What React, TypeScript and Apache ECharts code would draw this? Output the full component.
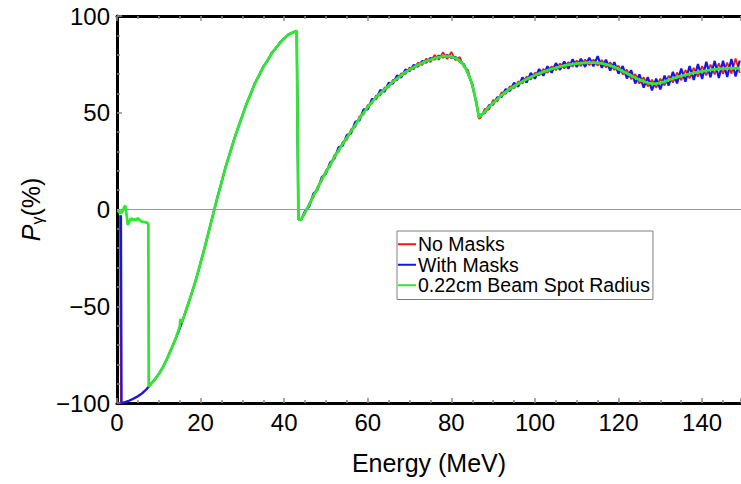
import React, { useEffect, useRef } from 'react';
import * as echarts from 'echarts';

// Energy grid (MeV) for the two noisy simulations
const noisyEnergy = [0.7, 0.95, 1.1, 1.5, 2, 3, 4, 5, 6, 7, 8, 9, 10, 11, 12, 13, 14, 15, 16, 17, 18, 19, 20, 21, 22, 23, 24, 25, 26, 27, 28, 29, 30, 31, 32, 33, 34, 35, 36, 37, 38, 39, 40, 41, 42, 43, 43.4, 44, 45, 46, 47, 48, 49, 50, 51, 52, 53, 54, 55, 56, 57, 58, 59, 60, 61, 62, 63, 64, 65, 66, 67, 68, 69, 70, 71, 72, 73, 74, 75, 76, 77, 78, 79, 80, 81, 82, 83, 84, 85, 86, 86.6, 87, 88, 89, 90, 91, 92, 93, 94, 95, 96, 97, 98, 99, 100, 101, 102, 103, 104, 105, 106, 107, 108, 109, 110, 111, 112, 113, 114, 115, 116, 117, 118, 119, 120, 121, 122, 123, 124, 125, 126, 127, 128, 129, 130, 131, 132, 133, 134, 135, 136, 137, 138, 139, 140, 141, 142, 143, 144, 145, 146, 147, 148, 149];

// "No Masks" polarisation (%)
const noMasks = [-3, -100, -99.9, -99.8, -99.5, -98.7, -97.7, -96.5, -95, -93, -90.5, -88, -85, -81.5, -77, -72, -67, -61.5, -55.5, -49, -42.5, -35.5, -27.5, -19.5, -11, -2.5, 6, 14, 22, 29, 36, 42.5, 48.5, 54.5, 60, 65, 69.5, 73.5, 77, 80.5, 83.5, 86, 88.5, 90.2, 91.5, 92.3, -5, -5.5,
  -2.1, 3.2, 6.2, 11.9, 14.8, 20.3, 22.1, 28, 29.7, 34.9, 36, 41.4, 42.7, 48, 49.1, 54, 54.7, 58.9, 59, 63, 63.1, 67, 66.8, 70.3, 70, 73.4, 72.5, 75.9, 74.7, 77.9, 76.2, 79.9, 77.4, 81.3, 77.7, 81.4, 77.1, 78.8, 73.7, 72, 63.5, 56,
  47,
  47.3, 52, 51.6, 56.6, 55.8, 60.5, 59.8, 63.6, 62.7, 66.2, 65.1, 68.7, 67.2, 70.7, 69.3, 72.6, 70.6, 74, 72, 75.4, 72.9, 76.2, 73.8, 77, 74.1, 77.5, 74.5, 77.5, 74.3, 77.3, 73.4, 76.1, 72.1, 74.4, 69.8, 72.3, 67.4, 70, 65.1, 68.3, 63.6, 67.1, 62.9, 67.6, 64.1, 69.2, 65.6, 70.8, 66.8, 72.1, 67.8, 73.2, 68.6, 74.1, 69.3, 74.9, 69.8, 75.5, 70.1, 75.9, 70.2, 78, 70.5];

// "With Masks" polarisation (%)
const withMasks = [null, -3, -100, -99.8, -99.5, -98.7, -97.7, -96.5, -95, -93, -90.5, -88, -85, -81.5, -77, -72, -67, -61.5, -55.5, -49, -42.5, -35.5, -27.5, -19.5, -11, -2.5, 6, 14, 22, 29, 36, 42.5, 48.5, 54.8, 59.6, 65.4, 69.2, 73.9, 76.7, 80.9, 83.2, 86.4, 88.2, 90.5, 91.3, 92.3, -5, -5.5,
  -0.7, 1.6, 8.2, 10.2, 16.8, 18.5, 24.4, 26.1, 32.1, 32.9, 38.5, 39.3, 45.3, 46, 51.7, 51.7, 57.1, 57.1, 61.8, 60.8, 65.5, 65, 69.3, 68.2, 72.4, 71.5, 74.7, 73.8, 76.7, 75.9, 78.3, 77.5, 79.5, 78.6, 79.9, 78.4, 78.9, 76.3, 75.1, 70, 65, 54.6,
  47.5,
  49, 49.9, 53.8, 54.3, 58, 58.2, 62.2, 61.2, 65.5, 63.5, 68.2, 65.6, 70.6, 67.6, 72.6, 69.1, 74, 70.7, 75.6, 72.2, 76.5, 72.7, 77.6, 73.6, 77.9, 73.7, 78.5, 74, 79.3, 73.2, 77.4, 71.8, 76.1, 70.2, 74.1, 67.7, 72, 65.1, 69.8, 63, 68.4, 61.6, 67.6, 62.1, 69.2, 64.1, 71.1, 65.2, 72.8, 66.1, 74.1, 67, 75.2, 67.4, 76.3, 68.3, 76.8, 68, 76.9, 68.5, 77.8, 68.7, 77];

// "0.22cm Beam Spot Radius" (smooth)
const spotEnergy = [0.2, 0.8, 1.3, 1.7, 2, 2.3, 2.6, 3, 3.4, 3.8, 4.2, 4.6, 5, 5.4, 6, 6.6, 7.2, 7.5, 7.6, 8, 9, 10, 11, 12, 13, 14, 15, 15.2, 15.5, 16, 17, 18, 19, 20, 21, 22, 23, 24, 25, 26, 27, 28, 29, 30, 31, 32, 33, 34, 35, 36, 37, 38, 39, 40, 41, 42, 43, 43.4, 44, 45, 46, 47, 48, 49, 50, 51, 52, 53, 54, 55, 56, 57, 58, 59, 60, 61, 62, 63, 64, 65, 66, 67, 68, 69, 70, 71, 72, 73, 74, 75, 76, 77, 78, 79, 80, 81, 82, 83, 84, 85, 86, 86.6, 87, 88, 89, 90, 91, 92, 93, 94, 95, 96, 97, 98, 99, 100, 101, 102, 103, 104, 105, 106, 107, 108, 109, 110, 111, 112, 113, 114, 115, 116, 117, 118, 119, 120, 121, 122, 123, 124, 125, 126, 127, 128, 129, 130, 131, 132, 133, 134, 135, 136, 137, 138, 139, 140, 141, 142, 143, 144, 145, 146, 147, 148, 149];
const spotRadius = [-0.5, -2, -1, 1, 2, -3, -8, -6, -4.5, -5.5, -5, -5.5, -4.5, -5.5, -6.3, -6.5, -6.8, -7.5, -91.6, -90.5, -88, -85, -81.5, -77, -72, -67, -60.5, -56.5, -58.5, -55.5, -49, -42.5, -35.5, -27.5, -19.5, -11, -2.5, 6, 14, 22, 29, 36, 42.5, 48.5, 54.5, 60, 65, 69.5, 73.5, 77, 80.5, 83.5, 86, 88.5, 90.2, 91.5, 92.3, -5, -5.5,
  -1.5, 2.5, 7, 11, 15.5, 19.5, 23, 27, 30.5, 34, 37, 40.5, 43.5, 47, 50, 53, 55.5, 58, 60, 62, 64, 66, 67.7, 69.3, 71, 72.3, 73.5, 74.7, 75.7, 76.6, 77.4, 78.1, 78.7, 79.1, 79.2, 79, 78.3, 76.8, 74.5, 70.5, 64.5, 55,
  47.5,
  48.5, 50.5, 53, 55, 57, 59, 60.8, 62.3, 63.7, 65, 66.2, 67.3, 68.4, 69.4, 70.3, 71.1, 71.9, 72.6, 73.2, 73.8, 74.3, 74.7, 75.1, 75.4, 75.6, 75.8, 75.9, 75.9, 75.8, 75.5, 75, 74.4, 73.6, 72.6, 71.5, 70.4, 69.2, 68.1, 67.1, 66.2, 65.5, 65.1, 65, 65.4, 66.1, 66.9, 67.7, 68.4, 69, 69.6, 70.1, 70.6, 71, 71.4, 71.8, 72.1, 72.4, 72.6, 72.8, 72.9, 73, 73, 73];

const seriesNames = ['No Masks', 'With Masks', '0.22cm Beam Spot Radius'];
const xRange = [0, 149.3];
const yRange = [-100, 100];

const FONT = 'Liberation Sans, Arial, Helvetica, sans-serif';

function zip(xs: number[], ys: (number | null)[]) {
  return xs.map((x, i) => [x, ys[i]]);
}

export default function App() {
  const ref = useRef<HTMLDivElement>(null);
  useEffect(() => {
    if (!ref.current) return;
    const chart = echarts.init(ref.current, undefined, { renderer: 'svg' });
    const tickStyle = { show: true, inside: true, length: 5, lineStyle: { color: '#8c8c8c', width: 1.5 } };
    const minorStyle = { show: true, length: 3, lineStyle: { color: '#8c8c8c', width: 1.5 } };
    chart.setOption({
      animation: false,
      backgroundColor: '#ffffff',
      grid: { left: 117, right: 0, top: 16, bottom: 81, containLabel: false },
      legend: {
        data: seriesNames,
        orient: 'vertical',
        left: 397,
        top: 231,
        icon: 'rect',
        itemWidth: 18,
        itemHeight: 2,
        itemGap: 0,
        padding: [3, 3, 4, 1],
        borderColor: '#808080',
        borderWidth: 1,
        backgroundColor: '#ffffff',
        selectedMode: false,
        textStyle: { fontFamily: FONT, fontSize: 19.5, color: '#000', lineHeight: 20.5, padding: [0, 0, 0, -3] },
      },
      xAxis: [
        {
          type: 'value', min: xRange[0], max: xRange[1], interval: 20,
          name: 'Energy (MeV)', nameLocation: 'middle', nameGap: 47,
          nameTextStyle: { fontFamily: FONT, fontSize: 25, color: '#000' },
          axisLine: { show: true, onZero: false, lineStyle: { color: '#000', width: 3 } },
          axisTick: tickStyle,
          minorTick: { ...minorStyle, splitNumber: 4 },
          axisLabel: { fontFamily: FONT, fontSize: 24, color: '#000', margin: 7, showMaxLabel: false },
          splitLine: { show: false },
        },
        {
          type: 'value', position: 'top', min: xRange[0], max: xRange[1], interval: 20,
          axisLine: { show: true, onZero: false, lineStyle: { color: '#000', width: 3 } },
          axisTick: tickStyle,
          minorTick: { ...minorStyle, splitNumber: 4 },
          axisLabel: { show: false },
          splitLine: { show: false },
        },
      ],
      yAxis: {
        type: 'value', min: yRange[0], max: yRange[1], interval: 50,
        name: '{p|P}{g|γ}{t|(%)}', nameLocation: 'middle', nameGap: 72,
        nameTextStyle: {
          fontFamily: FONT, color: '#000',
          rich: {
            p: { fontFamily: FONT, fontSize: 25, fontStyle: 'italic', color: '#000' },
            g: { fontFamily: FONT, fontSize: 16, color: '#000', verticalAlign: 'bottom', padding: [12, 0, 0, 0] },
            t: { fontFamily: FONT, fontSize: 25, color: '#000' },
          },
        },
        axisLine: { show: true, onZero: false, lineStyle: { color: '#000', width: 3 } },
        axisTick: tickStyle,
        minorTick: { ...minorStyle, splitNumber: 5 },
        axisLabel: {
          fontFamily: FONT, fontSize: 24, color: '#000', margin: 7,
          formatter: (v: number) => (v < 0 ? '\u2212' + Math.abs(v) : String(v)),
        },
        splitLine: { show: false },
      },
      series: [
        {
          name: seriesNames[0], type: 'line', data: zip(noisyEnergy, noMasks),
          showSymbol: false, symbol: 'none', color: '#f01818',
          lineStyle: { color: '#f01818', width: 1.8 },
          markLine: {
            silent: true, symbol: 'none', label: { show: false },
            lineStyle: { color: '#9a9a9a', width: 1, type: 'solid' },
            data: [{ yAxis: 0 }],
          },
          z: 2,
        },
        {
          name: seriesNames[1], type: 'line', data: zip(noisyEnergy, withMasks),
          showSymbol: false, symbol: 'none', color: '#1414f0', connectNulls: false,
          lineStyle: { color: '#1414f0', width: 2.2 },
          z: 3,
        },
        {
          name: seriesNames[2], type: 'line', data: zip(spotEnergy, spotRadius),
          showSymbol: false, symbol: 'none', color: '#33e633',
          lineStyle: { color: '#33e633', width: 2.8 },
          z: 4,
        },
      ],
    });
    return () => chart.dispose();
  }, []);
  return <div ref={ref} style={{ position: 'absolute', left: 0, top: 0, width: 741, height: 484 }} />;
}
